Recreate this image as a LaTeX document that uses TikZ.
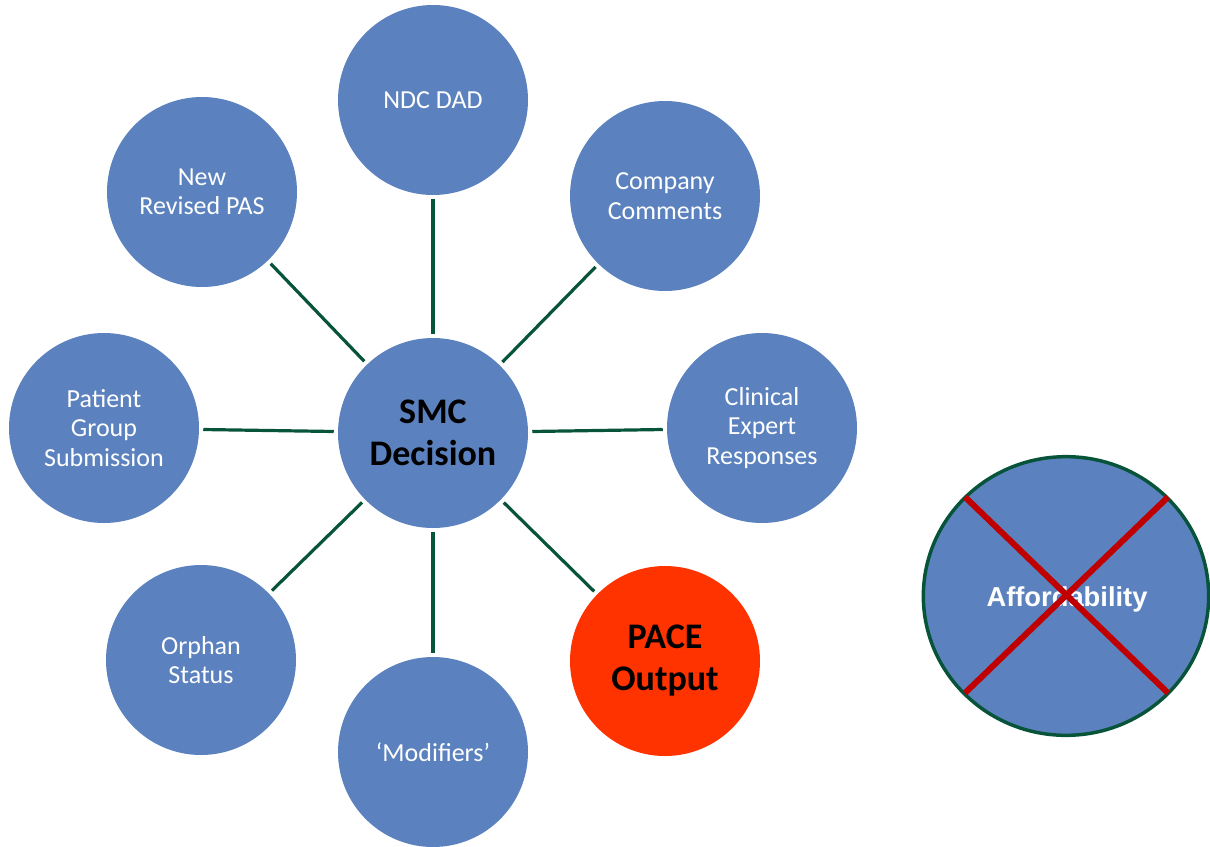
\documentclass[tikz,border=0pt]{standalone}
\usepackage{fontspec}
\setmainfont{Carlito}
\newfontfamily\arialfont{Liberation Sans}
\usetikzlibrary{shapes.geometric}
\definecolor{cblue}{RGB}{91,130,190}
\definecolor{cred}{RGB}{255,51,0}
\definecolor{cgreen}{RGB}{8,84,58}
\definecolor{xred}{RGB}{192,0,0}
\begin{document}
\begin{tikzpicture}[x=0.75pt,y=-0.75pt,
  bubble/.style={circle,fill=cblue,minimum size=142.5pt,inner sep=0pt,align=center,
    text=white,font=\fontsize{19.5}{22}\selectfont},
  bold/.style={text=black,font=\fontsize{27}{31.5}\selectfont\bfseries},
  link/.style={draw=cgreen,line width=2.4pt,shorten <=3pt,shorten >=3pt}]
\useasboundingbox (0,0) rectangle (1210,846);
\node[bubble,bold] (smc) at (433,433) {SMC\\Decision};
\node[bubble] (ndc) at (433,100) {NDC DAD};
\node[bubble] (comp) at (665,196) {Company\\Comments};
\node[bubble] (clin) at (762,428) {Clinical\\Expert\\Responses};
\node[bubble,bold,fill=cred] (pace) at (665,661) {PACE\\Output};
\node[bubble] (mod) at (433,752) {‘Modifiers’};
\node[bubble] (orph) at (201,660) {Orphan\\Status};
\node[bubble] (pat) at (104,428) {Patient\\Group\\Submission};
\node[bubble] (pas) at (202,192) {New\\Revised PAS};
\foreach \n in {ndc,comp,clin,pace,mod,orph,pat,pas}
  \draw[link] (smc) -- (\n);
\node[ellipse,fill=cblue,draw=cgreen,line width=2.6pt,minimum width=214pt,minimum height=209pt,inner sep=0pt] (aff) at (1066,596) {};
\node[text=white,font=\arialfont\bfseries\fontsize{20.5}{24}\selectfont,inner sep=0pt] (afftext) at (1067,599) {Affordability};
\coordinate (x1) at (965,497);
\coordinate (x2) at (1168,693);
\coordinate (x3) at (965,693);
\coordinate (x4) at (1168,497);
\draw[xred,line width=4.5pt] (x1) -- (x2) (x3) -- (x4);
\end{tikzpicture}
\end{document}
